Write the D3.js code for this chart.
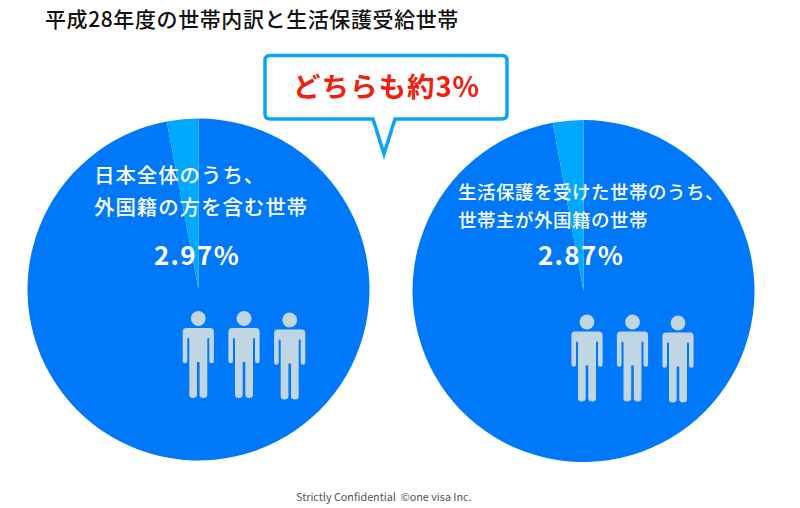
<!DOCTYPE html>
<html lang="ja">
<head>
<meta charset="utf-8">
<script src="https://cdn.jsdelivr.net/npm/d3@7"></script>
<style>
  html, body { margin: 0; padding: 0; background: #fff; }
  svg { display: block; }
  text { font-family: "Noto Sans CJK JP", "Noto Sans", sans-serif; }
</style>
</head>
<body>
<div id="chart"></div>
<script>
// Data
const chartTitle = "平成28年度の世帯内訳と生活保護受給世帯";
const calloutText = "どちらも約3%";
const footerText = "Strictly Confidential  ©one visa Inc.";
const sliceNames = ["その他", "外国籍"];
const leftValues = [97.03, 2.97];
const rightValues = [97.13, 2.87];
const leftLabels = ["日本全体のうち、", "外国籍の方を含む世帯"];
const rightLabels = ["生活保護を受けた世帯のうち、", "世帯主が外国籍の世帯"];
const leftPercent = "2.97%";
const rightPercent = "2.87%";

const width = 800;
const height = 508;
const radius = 171;

const color = d3.scaleOrdinal().domain(sliceNames).range(["#0078fa", "#00a8ff"]);

const svg = d3.select("#chart")
    .append("svg")
    .attr("width", width)
    .attr("height", height);

const pie = d3.pie().sort(null);
const arc = d3.arc().innerRadius(0).outerRadius(radius);

// one pictogram, origin at centre of the head
const personPath = "M-15.6,13 Q-15.6,9.4 -12,9.4 L12,9.4 Q15.6,9.4 15.6,13 L15.6,42.5 Q15.6,44.8 13.4,44.8 Q11,44.8 11,42.5 L11,20.5 Q11,19.5 10,19.5 Q9,19.5 9,20.5 L9,76.5 Q9,79.4 5.5,79.4 Q1.3,79.4 1.3,76.5 L1.3,43.5 L-1.3,43.5 L-1.3,76.5 Q-1.3,79.4 -5.5,79.4 Q-9,79.4 -9,76.5 L-9,20.5 Q-9,19.5 -10,19.5 Q-11,19.5 -11,20.5 L-11,42.5 Q-11,44.8 -13.4,44.8 Q-15.6,44.8 -15.6,42.5 Z";

function drawPerson(g, x, y) {
    const p = g.append("g")
        .attr("transform", `translate(${x},${y})`)
        .attr("fill", "#c0d6e4");
    p.append("circle").attr("r", 7.4);
    p.append("path").attr("d", personPath);
}

function drawPanel(opts) {
    const g = svg.append("g");

    // PIE
    g.append("g")
        .attr("transform", `translate(${opts.cx},${opts.cy})`)
        .selectAll("path")
        .data(pie(opts.values))
        .join("path")
        .attr("d", arc)
        .attr("fill", (d, i) => color(sliceNames[i]));

    // LABELS
    g.selectAll("text.label")
        .data(opts.labels)
        .join("text")
        .attr("class", "label")
        .attr("x", opts.labelX)
        .attr("y", (d, i) => opts.labelY + i * opts.lineGap)
        .attr("fill", "white")
        .attr("font-size", opts.labelSize)
        .attr("letter-spacing", opts.labelSpacing)
        .attr("font-weight", 500)
        .text(d => d);

    g.append("text")
        .attr("x", opts.percentX)
        .attr("y", opts.percentY)
        .attr("text-anchor", "middle")
        .attr("fill", "white")
        .attr("font-size", 26)
        .attr("font-weight", 700)
        .attr("letter-spacing", 1.3)
        .text(opts.percent);

    // PEOPLE
    opts.people.forEach(p => drawPerson(g, p[0], p[1]));
}

drawPanel({
    cx: 198.5, cy: 289.5, values: leftValues, labels: leftLabels,
    labelX: 94, labelY: 183, lineGap: 32, labelSize: 20.5, labelSpacing: 0.9,
    percent: leftPercent, percentX: 197, percentY: 265,
    people: [[198.3, 318.5], [244, 318.5], [289.7, 320]]
});

drawPanel({
    cx: 583.5, cy: 291, values: rightValues, labels: rightLabels,
    labelX: 458, labelY: 199, lineGap: 28, labelSize: 18.5, labelSpacing: 0.5,
    percent: rightPercent, percentX: 581, percentY: 265,
    people: [[587, 322], [632.5, 322], [678, 323]]
});

// TITLE
svg.append("text")
    .attr("x", 45)
    .attr("y", 27)
    .attr("fill", "#111")
    .attr("font-size", 21)
    .attr("letter-spacing", 0.6)
    .attr("font-weight", 500)
    .text(chartTitle);

// CALLOUT
svg.append("path")
    .attr("d", "M270,55.5 L502,55.5 Q507,55.5 507,60.5 L507,114 Q507,119 502,119 L395,119 L384,154 L373,119 L270,119 Q265,119 265,114 L265,60.5 Q265,55.5 270,55.5 Z")
    .attr("fill", "white")
    .attr("stroke", "#0aa5f5")
    .attr("stroke-width", 3.5);

svg.append("text")
    .attr("x", 386.5)
    .attr("y", 97)
    .attr("text-anchor", "middle")
    .attr("fill", "#f0200c")
    .attr("font-size", 27.5)
    .attr("font-weight", 700)
    .attr("letter-spacing", 1)
    .text(calloutText);

// FOOTER
svg.append("text")
    .attr("x", 296)
    .attr("y", 501)
    .attr("fill", "#555")
    .attr("font-size", 10.8)
    .style("white-space", "pre")
    .text(footerText);
</script>
</body>
</html>
